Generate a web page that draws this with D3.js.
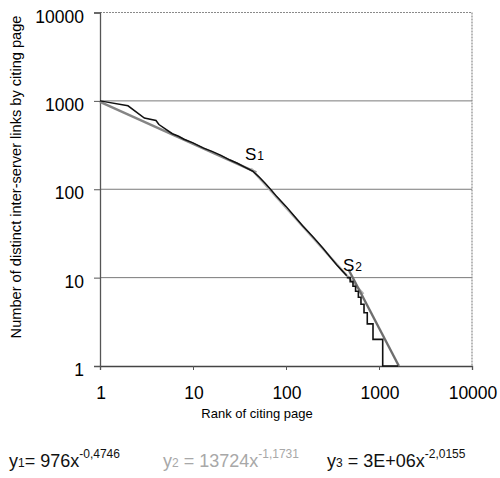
<!DOCTYPE html>
<html>
<head>
<meta charset="utf-8">
<script src="https://cdn.jsdelivr.net/npm/d3@7"></script>
<style>
  body { margin: 0; background: #fff; }
  text { font-family: "Liberation Sans", Arial, sans-serif; }
</style>
</head>
<body>
<div id="chart"></div>
<script>
// measured rank / link counts (upper, continuous part)
var rank = [1, 2, 3, 4, 4.3, 6, 7, 8, 10, 13, 16, 20, 25, 30, 36, 44, 52, 60, 70, 80, 100, 120, 150, 200, 250, 300, 350, 400, 450]
var links = [1000, 880, 640, 600, 540, 425, 398, 368, 335, 292, 268, 242, 214, 197, 178, 160, 136, 116, 97, 82, 64, 51, 39, 28, 21.5, 17, 14, 12, 10.5]
// tail, integer counts: value holds from rank until next rank
var stepRank = [450, 490, 525, 560, 600, 640, 690, 748, 862, 1096, 1603]
var stepLinks = [10, 9, 8, 7, 6, 5, 4, 3, 2, 1, 1]

// power law fits y = a * x^b
var fitName = ['y1', 'y2', 'y3']
var fitCoef = [976, 13724, 3e6]
var fitExp = [-0.4746, -1.1731, -2.0155]
var fitFrom = [1, 42, 470]
var fitTo = [48, 680, 1636]
var fitLabel = ['976x', '13724x', '3E+06x']
var fitExpLabel = ['-0,4746', '-1,1731', '-2,0155']

var xTicks = [1, 10, 100, 1000, 10000]
var yTicks = [1, 10, 100, 1000, 10000]

var W = 500, H = 478
var svg = d3.select('#chart').append('svg')
    .attr('width', W)
    .attr('height', H)

var x = d3.scaleLog().domain([1, 10000]).range([100, 472])
var y = d3.scaleLog().domain([1, 10000]).range([366, 12.5])

// grid lines
svg.append('g').selectAll('line')
    .data([10, 100, 1000])
    .enter().append('line')
    .attr('x1', x(1)).attr('x2', x(10000))
    .attr('y1', d => y(d)).attr('y2', d => y(d))
    .attr('stroke', '#7a7a7a')
    .attr('stroke-width', 1)

// plot border (dashed top/right)
svg.append('path')
    .attr('d', 'M' + x(1) + ',' + y(10000) + 'H' + x(10000) + 'V' + y(1))
    .attr('fill', 'none')
    .attr('stroke', '#8a8a8a')
    .attr('stroke-dasharray', '2 1')
    .attr('stroke-width', 1.2)

// axes
var xAxis = d3.axisBottom(x).tickValues(xTicks).tickSize(4).tickFormat('')
var yAxis = d3.axisLeft(y).tickValues(yTicks).tickSize(6).tickFormat('')
var gx = svg.append('g').attr('transform', 'translate(0,' + y(1) + ')').call(xAxis)
var gy = svg.append('g').attr('transform', 'translate(' + x(1) + ',0)').call(yAxis)
gx.select('.domain').attr('stroke', '#444').attr('stroke-width', 1.3)
gy.select('.domain').attr('stroke', '#555').attr('stroke-width', 1.3)
gx.selectAll('.tick line').attr('stroke', '#555')
gy.selectAll('.tick line').attr('stroke', '#555')

// tick labels
svg.append('g').selectAll('text')
    .data(yTicks)
    .enter().append('text')
    .attr('x', 84)
    .attr('y', d => y(d) + 10)
    .attr('text-anchor', 'end')
    .attr('font-size', 17.5)
    .text(d => d)
svg.append('g').selectAll('text')
    .data(xTicks)
    .enter().append('text')
    .attr('x', d => x(d) + 1)
    .attr('y', 399)
    .attr('text-anchor', 'middle')
    .attr('font-size', 17.5)
    .text(d => d)

// axis titles
svg.append('text')
    .attr('x', x(100) - 29)
    .attr('y', 418)
    .attr('text-anchor', 'middle')
    .attr('font-size', 13)
    .text('Rank of citing page')
svg.append('text')
    .attr('transform', 'translate(21,177) rotate(-90)')
    .attr('text-anchor', 'middle')
    .attr('font-size', 14.6)
    .text('Number of distinct inter-server links by citing page')

// fit lines
var fitColor = ['#858585', '#b4b4b4', '#6e6e6e']
fitName.forEach(function(n, i) {
    var pts = [fitFrom[i], fitTo[i]].map(r => [r, fitCoef[i] * Math.pow(r, fitExp[i])])
    svg.append('path')
        .datum(pts)
        .attr('d', d3.line().x(d => x(d[0])).y(d => y(d[1])))
        .attr('fill', 'none')
        .attr('stroke', fitColor[i])
        .attr('stroke-width', 2.4)
})

// data
var head = rank.map((r, i) => [r, links[i]])
svg.append('path')
    .datum(head)
    .attr('d', d3.line().x(d => x(d[0])).y(d => y(d[1])))
    .attr('fill', 'none')
    .attr('stroke', '#111')
    .attr('stroke-width', 1.5)
var tail = stepRank.map((r, i) => [r, stepLinks[i]])
svg.append('path')
    .datum(tail)
    .attr('d', d3.line().curve(d3.curveStepAfter).x(d => x(d[0])).y(d => y(d[1])))
    .attr('fill', 'none')
    .attr('stroke', '#111')
    .attr('stroke-width', 1.6)

// segment break labels
function sLabel(px, py, sub) {
    var t = svg.append('text').attr('x', px).attr('y', py).attr('font-size', 17)
    t.append('tspan').text('S')
    t.append('tspan').attr('font-size', 12).attr('dx', 1).text(sub)
}
sLabel(245, 160, '1')
sLabel(343, 271, '2')

// equations
var eqX = [9, 163, 327]
var eqColor = ['#111', '#a8a8a8', '#111']
var eqSep = ['= ', ' = ', ' = ']
fitName.forEach(function(n, i) {
    var t = svg.append('text')
        .attr('x', eqX[i])
        .attr('y', 467)
        .attr('font-size', 18)
        .attr('fill', eqColor[i])
    t.append('tspan').text('y')
    t.append('tspan').attr('font-size', 12).text(String(i + 1))
    t.append('tspan').text(eqSep[i] + fitLabel[i])
    t.append('tspan').attr('font-size', 12).attr('dy', -9).text(fitExpLabel[i])
})
</script>
</body>
</html>
